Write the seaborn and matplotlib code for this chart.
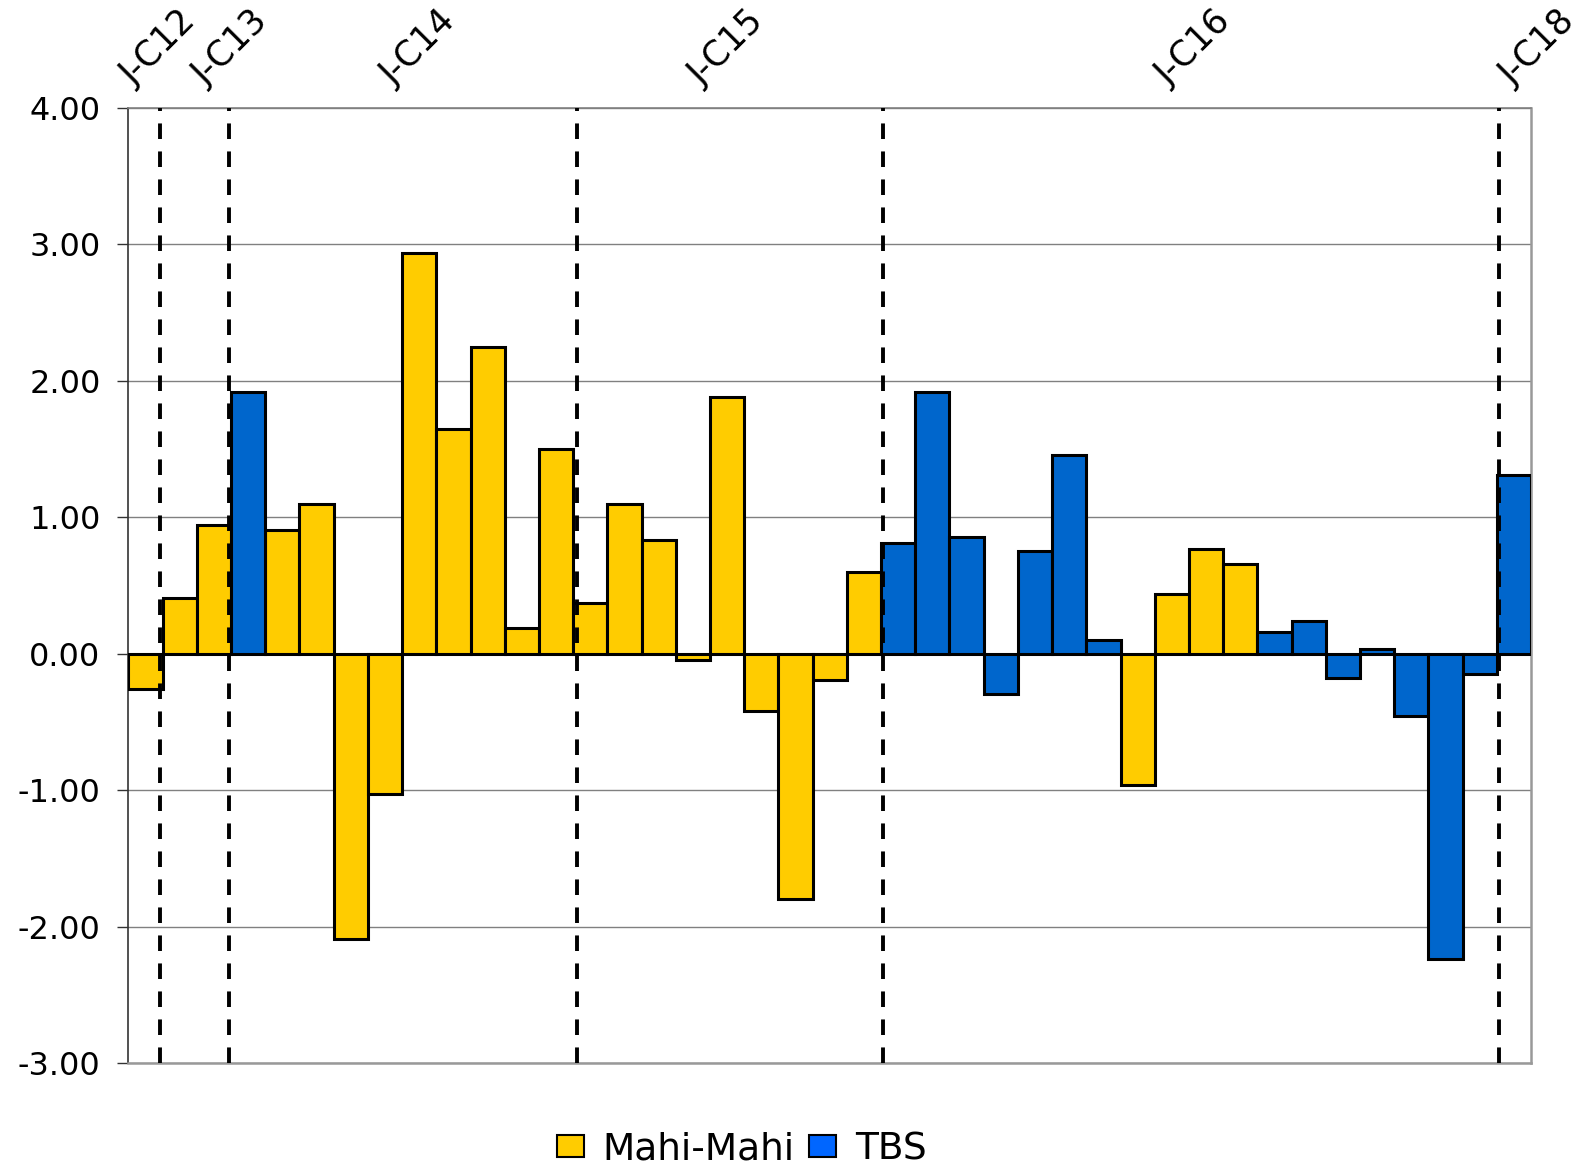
import matplotlib
matplotlib.use("Agg")
import matplotlib.pyplot as plt
import matplotlib.patches as mpatches
from matplotlib.ticker import FuncFormatter, MultipleLocator
import numpy as np
import pandas as pd
import seaborn as sns

# ---- data ----
values = [-0.26, 0.41, 0.94, 1.92, 0.91, 1.10, -2.09, -1.03, 2.94, 1.645,
          2.25, 0.185, 1.50, 0.37, 1.10, 0.83, -0.045, 1.88, -0.42, -1.80,
          -0.19, 0.60, 0.81, 1.92, 0.855, -0.295, 0.75, 1.46, 0.10, -0.96,
          0.435, 0.77, 0.66, 0.16, 0.24, -0.175, 0.035, -0.46, -2.24, -0.15,
          1.31]
series = (["Mahi-Mahi"] * 3 + ["TBS"] + ["Mahi-Mahi"] * 18 + ["TBS"] * 7
          + ["Mahi-Mahi"] * 4 + ["TBS"] * 8)
series_names = ["Mahi-Mahi", "TBS"]
bar_colors = {"Mahi-Mahi": "#FFCC00", "TBS": "#0066CC"}
legend_colors = {"Mahi-Mahi": "#FFCC00", "TBS": "#0066FF"}
section_labels = ["J-C12", "J-C13", "J-C14", "J-C15", "J-C16", "J-C18"]
section_label_x = [-0.2, 1.9, 7.4, 16.4, 30.05, 40.1]
divider_x = [0.43, 2.45, 12.6, 21.55, 39.55]

df = pd.DataFrame({"pos": np.arange(len(values)), "value": values, "series": series})

sns.set_theme(style="white")
plt.rcParams["font.family"] = ["DejaVu Sans"]
plt.rcParams["text.color"] = "black"

fig = plt.figure(figsize=(15.85, 11.68), dpi=100)
ax = fig.add_axes([0.081, 0.0899, 0.885, 0.8176])

sns.barplot(data=df, x="pos", y="value", hue="series", hue_order=series_names,
            palette=bar_colors, saturation=1, dodge=False, width=1.0, ax=ax,
            legend=False, edgecolor="black", linewidth=2.2, zorder=3)

ax.set_xlim(-0.5, len(values) - 0.5)
ax.set_ylim(-3, 4)
ax.yaxis.set_major_locator(MultipleLocator(1))
ax.yaxis.set_major_formatter(FuncFormatter(lambda v, p: f"{v:.2f}"))
ax.set_xticks([])
ax.set_xlabel("")
ax.set_ylabel("")

ax.grid(axis="y", color="#808080", linewidth=1.0, zorder=0)
ax.set_axisbelow(True)

for side in ["top", "right", "bottom"]:
    ax.spines[side].set_color("#999999")
    ax.spines[side].set_linewidth(1.8)
ax.spines["top"].set_color("#808080")
ax.spines["top"].set_linewidth(1.2)
ax.spines["left"].set_color("#333333")
ax.spines["left"].set_linewidth(1.2)

ax.tick_params(axis="y", which="major", direction="out", length=8, width=1.0,
               color="#333333", labelsize=23, labelcolor="black", pad=12, left=True)

for xv in divider_x:
    ax.axvline(xv, color="black", linewidth=2.8, linestyle=(0, (4.0, 3.2)), zorder=4)

for lab, xv in zip(section_labels, section_label_x):
    ax.text(xv, 4.12, lab, rotation=45, rotation_mode="anchor", ha="left", va="bottom",
            fontsize=25, color="black", clip_on=False)

handles = [mpatches.Patch(facecolor=legend_colors[s], edgecolor="black", linewidth=1.5, label=s)
           for s in series_names]
leg = fig.legend(handles=handles, loc="center", bbox_to_anchor=(0.468, 0.016), ncol=2,
                 frameon=False, fontsize=27, handlelength=0.72, handleheight=0.55,
                 handletextpad=0.5, columnspacing=0.4)
for t in leg.get_texts():
    t.set_color("black")

fig.savefig("out.png", dpi=100)
